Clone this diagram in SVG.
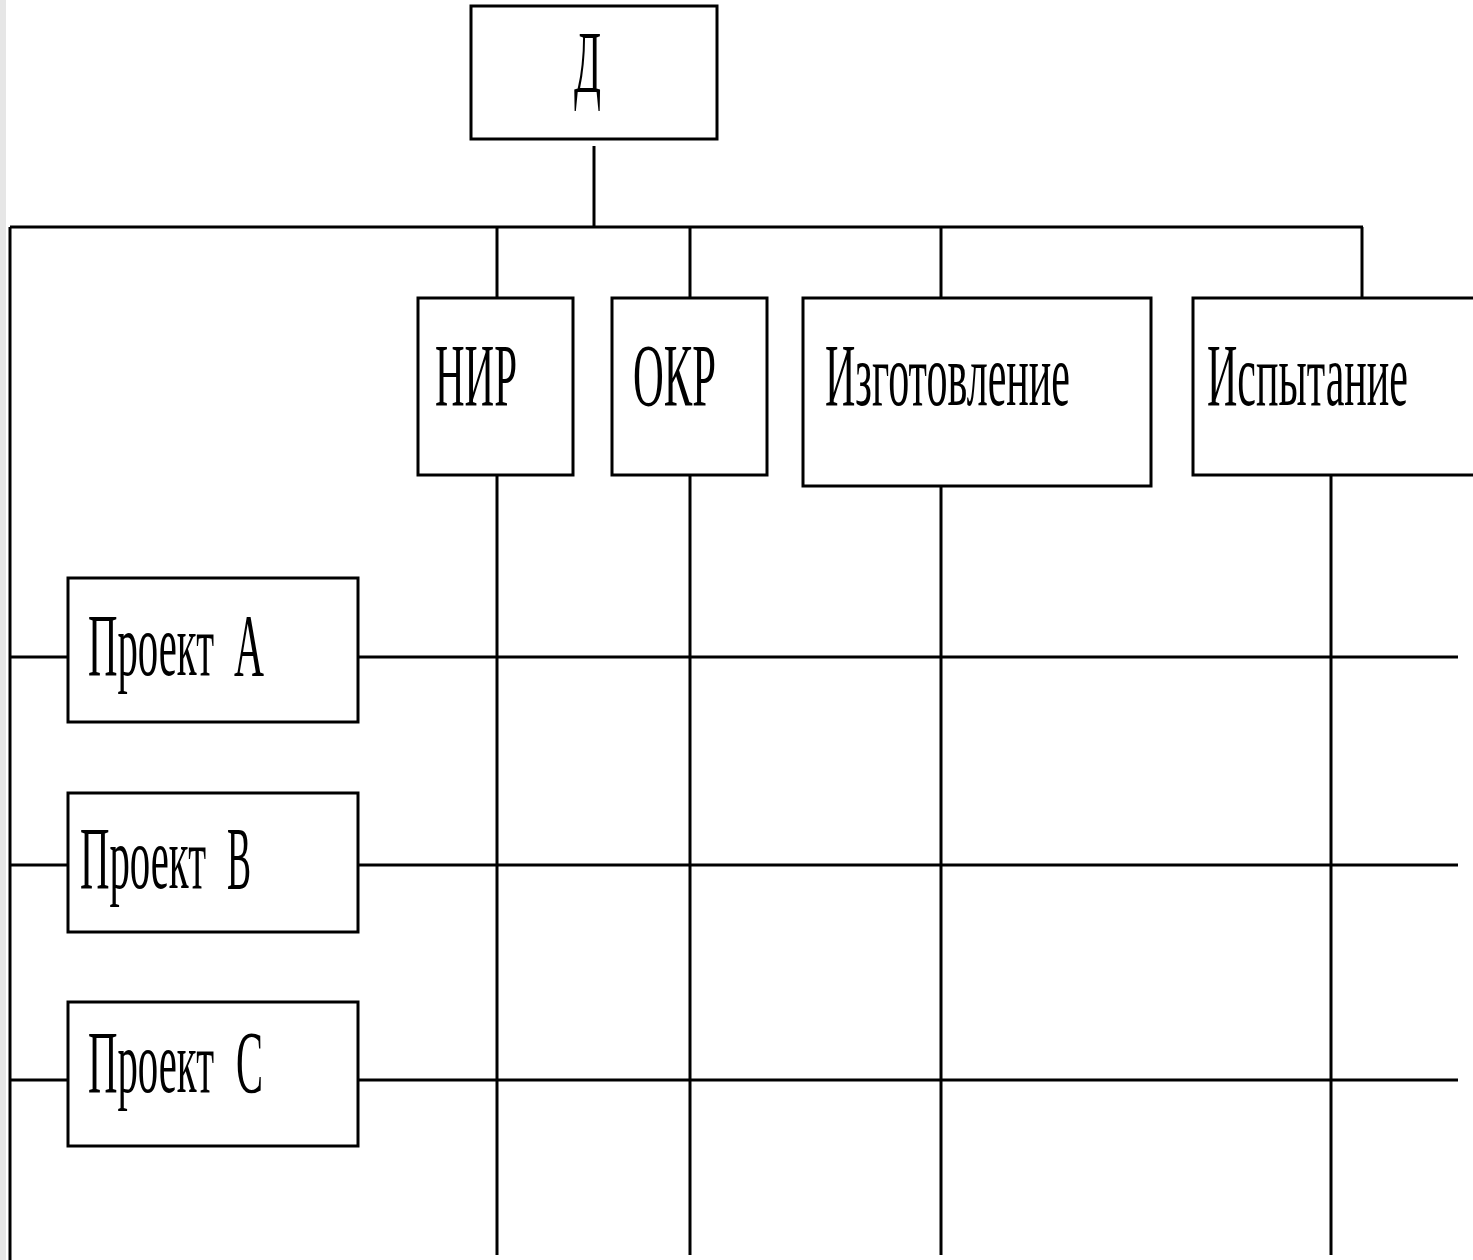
<svg xmlns="http://www.w3.org/2000/svg" width="1473" height="1260" viewBox="0 0 1473 1260">
<style>
.box{fill:#fff;stroke:#000;stroke-width:3}
.ln{stroke:#000;stroke-width:3;fill:none}
.t{font-family:"Liberation Serif","Times New Roman",serif;font-size:88px;fill:#000}
</style>
<rect x="0" y="0" width="1473" height="1260" fill="#fff"/>
<rect x="0" y="0" width="6" height="1260" fill="#e6e6e6"/>
<g id="connectors">
<line class="ln" x1="594" y1="146" x2="594" y2="227"/>
<line class="ln" x1="10" y1="227" x2="1363" y2="227"/>
<line class="ln" x1="10" y1="227" x2="10" y2="1260"/>
<line class="ln" x1="497" y1="227" x2="497" y2="298"/>
<line class="ln" x1="690" y1="227" x2="690" y2="298"/>
<line class="ln" x1="941" y1="227" x2="941" y2="298"/>
<line class="ln" x1="1362" y1="227" x2="1362" y2="298"/>
<line class="ln" x1="497" y1="475" x2="497" y2="1255"/>
<line class="ln" x1="690" y1="475" x2="690" y2="1255"/>
<line class="ln" x1="941" y1="486" x2="941" y2="1255"/>
<line class="ln" x1="1331" y1="475" x2="1331" y2="1255"/>
<line class="ln" x1="10" y1="657" x2="68" y2="657"/>
<line class="ln" x1="358" y1="657" x2="1458" y2="657"/>
<line class="ln" x1="10" y1="865" x2="68" y2="865"/>
<line class="ln" x1="358" y1="865" x2="1458" y2="865"/>
<line class="ln" x1="10" y1="1080" x2="68" y2="1080"/>
<line class="ln" x1="358" y1="1080" x2="1458" y2="1080"/>
</g>
<g id="node-d"><rect class="box" x="471" y="6" width="246" height="133"/><text class="t" transform="scale(0.5,1)" x="1148" y="92" textLength="54" lengthAdjust="spacingAndGlyphs">Д</text></g>
<g id="node-nir"><rect class="box" x="418" y="298" width="155" height="177"/><text class="t" transform="scale(0.5,1)" x="870" y="405" textLength="164" lengthAdjust="spacingAndGlyphs">НИР</text></g>
<g id="node-okr"><rect class="box" x="612" y="298" width="155" height="177"/><text class="t" transform="scale(0.5,1)" x="1266" y="405" textLength="166" lengthAdjust="spacingAndGlyphs">ОКР</text></g>
<g id="node-izg"><rect class="box" x="803" y="298" width="348" height="188"/><text class="t" transform="scale(0.5,1)" x="1650" y="405" textLength="490" lengthAdjust="spacingAndGlyphs">Изготовление</text></g>
<g id="node-isp"><rect class="box" x="1193" y="298" width="285" height="177"/><text class="t" transform="scale(0.5,1)" x="2414" y="405" textLength="402" lengthAdjust="spacingAndGlyphs">Испытание</text></g>
<g id="node-a"><rect class="box" x="68" y="578" width="290" height="144"/><text class="t" transform="scale(0.5,1)" y="675"><tspan x="176" textLength="252" lengthAdjust="spacingAndGlyphs">Проект</tspan><tspan x="468" textLength="60" lengthAdjust="spacingAndGlyphs">А</tspan></text></g>
<g id="node-b"><rect class="box" x="68" y="793" width="290" height="139"/><text class="t" transform="scale(0.5,1)" y="888"><tspan x="160" textLength="252" lengthAdjust="spacingAndGlyphs">Проект</tspan><tspan x="454" textLength="48" lengthAdjust="spacingAndGlyphs">В</tspan></text></g>
<g id="node-c"><rect class="box" x="68" y="1002" width="290" height="144"/><text class="t" transform="scale(0.5,1)" y="1092"><tspan x="176" textLength="252" lengthAdjust="spacingAndGlyphs">Проект</tspan><tspan x="472" textLength="54" lengthAdjust="spacingAndGlyphs">С</tspan></text></g>
</svg>
